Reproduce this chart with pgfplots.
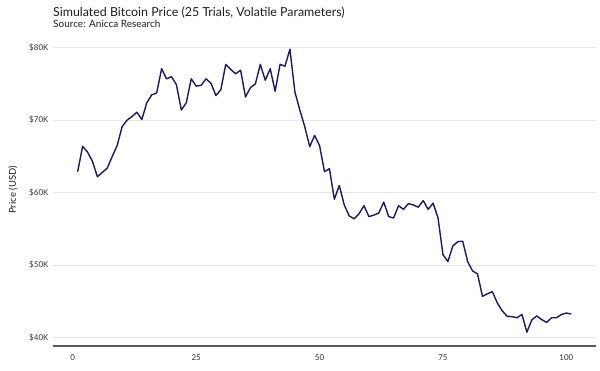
\documentclass[border=0pt]{standalone}
\usepackage{fontspec}
\setmainfont{Lato}
\usepackage{pgfplots}
\pgfplotsset{compat=1.18}
\definecolor{linec}{RGB}{28,24,102}
\definecolor{gridc}{RGB}{230,230,230}
\definecolor{axc}{RGB}{90,90,90}
\definecolor{tickc}{RGB}{50,50,50}
\definecolor{titlec}{RGB}{30,30,30}
\begin{document}
\begin{tikzpicture}[x=1pt,y=1pt]
\useasboundingbox (0,0) rectangle (600,370);
\begin{axis}[
  at={(53pt,24pt)}, anchor=south west,
  scale only axis, width=543pt, height=311pt,
  xmin=-4, xmax=106, ymin=38.85, ymax=81.75,
  axis lines*=left,
  x axis line style={color=axc, line width=2.4pt, -},
  y axis line style={draw=none},
  tick style={draw=none},
  ymajorgrids, grid style={color=gridc, line width=0.9pt},
  xtick={0,25,50,75,100},
  ytick={40,50,60,70,80},
  yticklabels={\$40K,\$50K,\$60K,\$70K,\$80K},
  /pgf/number format/assume math mode=true,
  ticklabel style={font=\fontsize{8}{9}\selectfont, color=tickc},
  xticklabel style={yshift=-5pt},
  yticklabel style={xshift=-1pt},
  clip=false,
]
\addplot[color=linec, line width=1.4pt, line join=round] coordinates {
(1,62.9)(2,66.4)(3,65.6)(4,64.3)(5,62.2)(6,62.8)(7,63.4)(8,65.0)(9,66.5)(10,69.1)
(11,70.0)(12,70.5)(13,71.1)(14,70.1)(15,72.4)(16,73.5)(17,73.75)(18,77.1)(19,75.7)(20,76.0)
(21,74.9)(22,71.4)(23,72.4)(24,75.7)(25,74.7)(26,74.8)(27,75.7)(28,75.1)(29,73.4)(30,74.2)
(31,77.7)(32,77.0)(33,76.4)(34,76.9)(35,73.2)(36,74.5)(37,75.0)(38,77.7)(39,75.5)(40,77.1)
(41,74.0)(42,77.7)(43,77.45)(44,79.8)(45,73.9)(46,71.4)(47,69.1)(48,66.35)(49,67.9)(50,66.5)
(51,62.9)(52,63.3)(53,59.1)(54,61.0)(55,58.3)(56,56.8)(57,56.4)(58,57.1)(59,58.2)(60,56.7)
(61,56.9)(62,57.2)(63,58.7)(64,56.7)(65,56.5)(66,58.2)(67,57.7)(68,58.5)(69,58.3)(70,58.0)
(71,58.9)(72,57.7)(73,58.55)(74,56.5)(75,51.45)(76,50.5)(77,52.65)(78,53.25)(79,53.3)(80,50.5)
(81,49.2)(82,48.8)(83,45.7)(84,46.05)(85,46.35)(86,44.8)(87,43.7)(88,42.95)(89,42.9)(90,42.75)
(91,43.2)(92,40.75)(93,42.45)(94,43.0)(95,42.5)(96,42.1)(97,42.75)(98,42.75)(99,43.2)(100,43.4)
(101,43.25)
};
\end{axis}
\node[anchor=base west, inner sep=0pt, color=titlec, font=\fontsize{12.4}{15}\selectfont] at (53,353.5) {Simulated Bitcoin Price (25 Trials, Volatile Parameters)};
\node[anchor=base west, inner sep=0pt, color=titlec, font=\fontsize{10}{12}\selectfont] at (53,342.3) {Source: Anicca Research};
\node[rotate=90, inner sep=0pt, color=titlec, font=\fontsize{9.5}{11}\selectfont] at (13,180) {Price (USD)};
\end{tikzpicture}
\end{document}
